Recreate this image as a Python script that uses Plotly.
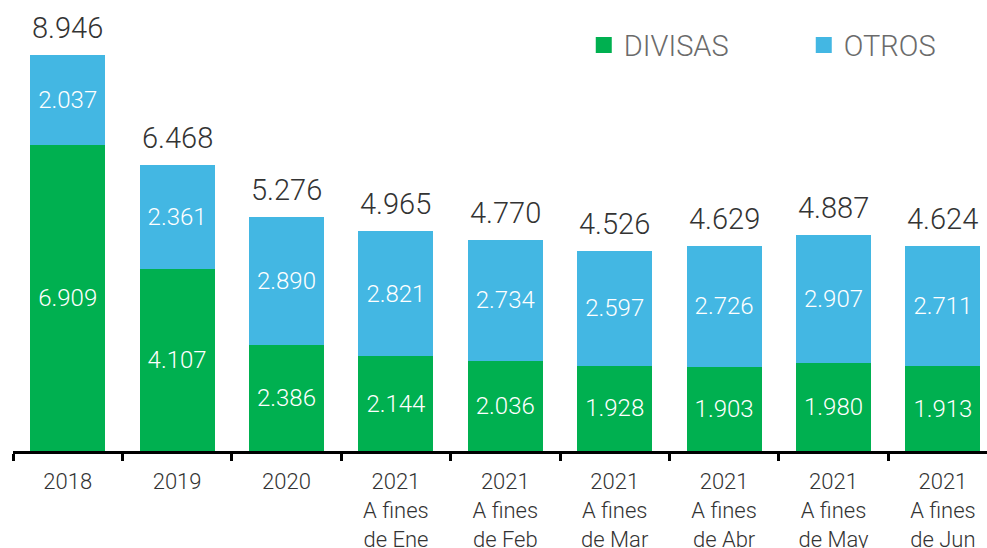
import plotly.graph_objects as go

categories = ["2018", "2019", "2020",
              "2021<br>A fines<br>de Ene", "2021<br>A fines<br>de Feb",
              "2021<br>A fines<br>de Mar", "2021<br>A fines<br>de Abr",
              "2021<br>A fines<br>de May", "2021<br>A fines<br>de Jun"]
divisas = [6909, 4107, 2386, 2144, 2036, 1928, 1903, 1980, 1913]
otros = [2037, 2361, 2890, 2821, 2734, 2597, 2726, 2907, 2711]
totals = [8946, 6468, 5276, 4965, 4770, 4526, 4629, 4887, 4624]

GREEN = "#00B050"
BLUE = "#43B7E3"
FONT = "Roboto"
W = 300

def fmt(v):
    return f"{v:,}".replace(",", ".")

fig = go.Figure()
fig.add_trace(go.Bar(x=categories, y=divisas, name="DIVISAS", marker_color=GREEN,
                     marker_line_width=0, text=[fmt(v) for v in divisas],
                     textposition="inside", insidetextanchor="middle", textangle=0,
                     textfont=dict(color="white", size=24, family=FONT, weight=W),
                     showlegend=False, hoverinfo="skip"))
fig.add_trace(go.Bar(x=categories, y=otros, name="OTROS", marker_color=BLUE,
                     marker_line_width=0, text=[fmt(v) for v in otros],
                     textposition="inside", insidetextanchor="middle", textangle=0,
                     textfont=dict(color="white", size=24, family=FONT, weight=W),
                     showlegend=False, hoverinfo="skip"))
# legend entries
for name, col in [("DIVISAS", GREEN), ("OTROS", BLUE)]:
    fig.add_trace(go.Scatter(x=[None], y=[None], mode="markers", name=name,
                             marker=dict(symbol="square", size=18, color=col)))

for i, t in enumerate(totals):
    fig.add_annotation(x=i, y=t, xref="x", yref="y", text=fmt(t), showarrow=False,
                       yanchor="bottom", yshift=8,
                       font=dict(size=29, color="#333333", family=FONT, weight=W))

fig.update_layout(
    barmode="stack", bargap=0.314,
    width=987, height=548,
    margin=dict(l=13, r=0, t=0, b=97, autoexpand=False),
    paper_bgcolor="white", plot_bgcolor="white",
    font=dict(family=FONT),
    legend=dict(orientation="h", x=0.586, xanchor="left", y=0.9, yanchor="middle",
                traceorder="normal",
                font=dict(size=29, color="#6b6b6b", family=FONT, weight=W),
                entrywidth=175, entrywidthmode="pixels",
                bgcolor="rgba(0,0,0,0)", itemwidth=30),
    xaxis=dict(type="category", range=[-0.5, 8.403], tickson="boundaries", ticks="outside",
               ticklen=7, tickwidth=3, tickcolor="black", tickangle=0, automargin=False,
               ticklabelstandoff=9,
               showline=True, linecolor="black", linewidth=3,
               tickfont=dict(size=22, color="#333333", family=FONT, weight=W),
               showgrid=False, zeroline=False, fixedrange=True),
    yaxis=dict(range=[0, 10188], visible=False, showgrid=False, zeroline=False,
               fixedrange=True),
)

fig.write_html("out.html", config={"displayModeBar": False},
               post_script="document.body.style.margin='0';")
